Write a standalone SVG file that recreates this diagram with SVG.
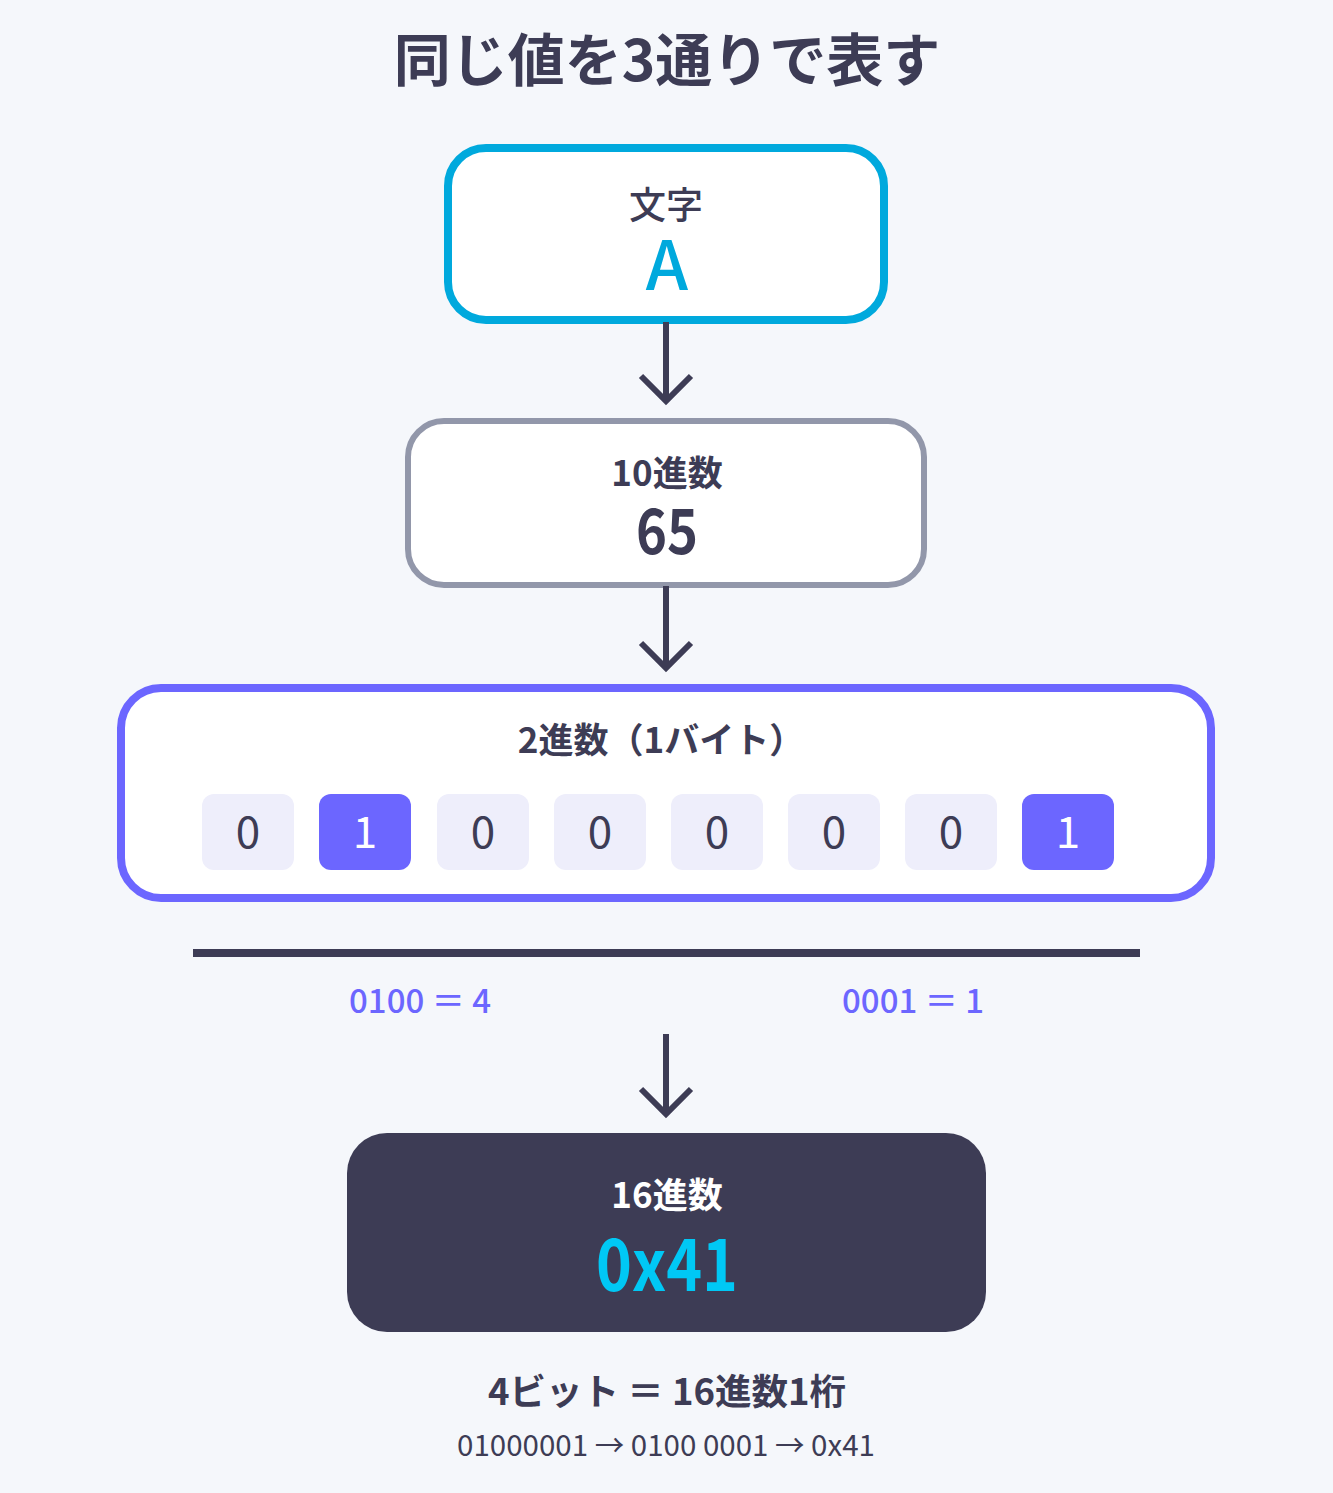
<svg xmlns="http://www.w3.org/2000/svg" width="1333" height="1493" viewBox="0 0 1333 1493">
<style>
text{font-family:"Noto Sans CJK JP","Noto Sans",sans-serif;text-anchor:middle}
.dark{fill:#3d3c55}
.b{font-weight:700}
.m{font-weight:500}
.bit0{fill:#eeeefb}
.bit1{fill:#6c66ff}
.conn{stroke:#3d3c55;stroke-width:6;fill:none}
</style>
<rect width="1333" height="1493" fill="#f5f7fb"/>
<text x="667" y="81" font-size="57" class="dark b">同じ値を3通りで表す</text>

<g id="node-char">
<rect x="448" y="148" width="436" height="172" rx="38" fill="#fff" stroke="#00a9dd" stroke-width="8"/>
<text x="666" y="219" font-size="37" class="dark m">文字</text>
<text x="667" y="290" font-size="68" class="m" fill="#00a9dd">A</text>
</g>

<g id="node-dec">
<rect x="408" y="421" width="516" height="164" rx="36" fill="#fff" stroke="#9297aa" stroke-width="6"/>
<text x="667" y="486" font-size="35" class="dark b">10進数</text>
<text x="667" y="554" font-size="62" class="dark b" textLength="62" lengthAdjust="spacingAndGlyphs">65</text>
</g>

<g id="node-bin">
<rect x="121" y="688" width="1090" height="210" rx="40" fill="#fff" stroke="#6c66ff" stroke-width="8"/>
<text x="661" y="753" font-size="35" class="dark b">2進数（1バイト）</text>
<g font-size="44">
<rect class="bit0" x="202" y="794" width="92" height="76" rx="12"/>
<text x="248" y="848" class="dark">0</text>
<rect class="bit1" x="319" y="794" width="92" height="76" rx="12"/>
<text x="365" y="848" fill="#fff">1</text>
<rect class="bit0" x="437" y="794" width="92" height="76" rx="12"/>
<text x="483" y="848" class="dark">0</text>
<rect class="bit0" x="554" y="794" width="92" height="76" rx="12"/>
<text x="600" y="848" class="dark">0</text>
<rect class="bit0" x="671" y="794" width="92" height="76" rx="12"/>
<text x="717" y="848" class="dark">0</text>
<rect class="bit0" x="788" y="794" width="92" height="76" rx="12"/>
<text x="834" y="848" class="dark">0</text>
<rect class="bit0" x="905" y="794" width="92" height="76" rx="12"/>
<text x="951" y="848" class="dark">0</text>
<rect class="bit1" x="1022" y="794" width="92" height="76" rx="12"/>
<text x="1068" y="848" fill="#fff">1</text>
</g>
</g>

<g id="nibbles">
<line x1="193" y1="953" x2="1140" y2="953" stroke="#3d3c55" stroke-width="8"/>
<text x="420" y="1013" font-size="33" class="m" fill="#6c66ff">0100 ＝ 4</text>
<text x="913" y="1013" font-size="33" class="m" fill="#6c66ff">0001 ＝ 1</text>
</g>

<g id="node-hex">
<rect x="347" y="1133" width="639" height="199" rx="40" fill="#3d3c55"/>
<text x="667" y="1208" font-size="35" class="b" fill="#fff">16進数</text>
<text x="667" y="1291" font-size="72" class="b" fill="#00c8f5" textLength="142" lengthAdjust="spacingAndGlyphs">0x41</text>
</g>

<g id="connectors" class="conn">
<path d="M666 322V400M641 376L666 401L691 376"/>
<path d="M666 586V667M641 643L666 668L691 643"/>
<path d="M666 1034V1113M641 1089L666 1114L691 1089"/>
</g>

<g id="footer">
<text x="667" y="1405" font-size="36.5" class="dark b">4ビット ＝ 16進数1桁</text>
<text x="666" y="1456" font-size="29.5" class="dark">01000001 → 0100 0001 → 0x41</text>
</g>
</svg>
